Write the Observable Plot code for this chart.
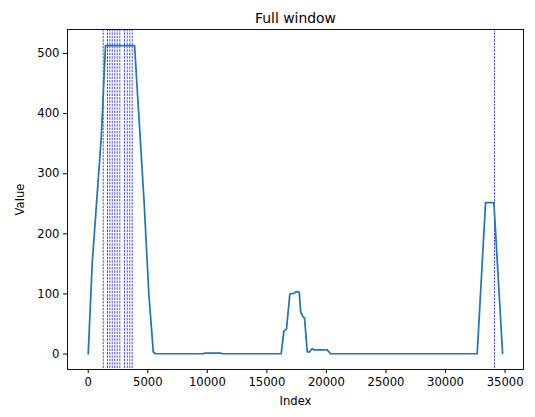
<!DOCTYPE html>
<html>
<head>
<meta charset="utf-8">
<script src="https://cdn.jsdelivr.net/npm/d3@7"></script>
<script src="https://cdn.jsdelivr.net/npm/@observablehq/plot@0.6"></script>
<style>
  html, body { margin: 0; padding: 0; background: white; }
</style>
</head>
<body>
<div id="chart"></div>
<script>
const title = "Full window";
const xLabel = "Index";
const yLabel = "Value";

const indexValues = [0, 336, 1100, 1450, 3890, 4330, 4700, 5090, 5460, 5600, 5790,
  9700, 9750, 11150, 11200, 16200, 16430, 16650, 16930, 17270, 17490, 17720,
  17830, 17990, 18160, 18390, 18550, 18810, 18940, 20070, 20340, 32660, 33360,
  34060, 34790];
const signalValues = [0, 151, 362, 513, 513, 371, 250, 100, 4, 1, 0.5,
  0.5, 1.5, 1.5, 0.5, 0.5, 38, 42, 100, 101, 104, 103,
  71, 63, 60, 4, 3, 9, 7, 7, 0.5, 0.5, 252,
  252, 1];

// marked positions (dashed vertical lines)
const markedIndices = [1259, 1620, 1814, 2015, 2233, 2435, 2653, 3048, 3275, 3493, 3694, 34110];

const xTicks = [0, 5000, 10000, 15000, 20000, 25000, 30000, 35000];
const yTicks = [0, 100, 200, 300, 400, 500];

const data = indexValues.map((x, i) => ({x, y: signalValues[i]}));

const chart = Plot.plot({
  width: 535,
  height: 417,
  marginLeft: 67,
  marginRight: 12,
  marginTop: 29,
  marginBottom: 48,
  style: {fontFamily: "DejaVu Sans", fontSize: "11.6px", background: "white", color: "black"},
  x: {domain: [-1740, 36546]},
  y: {domain: [-25.7, 540]},
  marks: [
    Plot.ruleX(markedIndices, {stroke: "blue", strokeWidth: 0.8, strokeDasharray: "2.4,1", strokeOpacity: 0.9}),
    Plot.line(data, {x: "x", y: "y", stroke: "#1f77b4", strokeWidth: 1.74}),
    Plot.frame({stroke: "black", strokeWidth: 0.93}),
    Plot.axisX({ticks: xTicks, tickFormat: d3.format("d"), tickSize: 4, tickPadding: 4,
      label: xLabel, labelAnchor: "center", labelArrow: "none", labelOffset: 35}),
    Plot.axisY({ticks: yTicks, tickFormat: d3.format("d"), tickSize: 4, tickPadding: 4,
      label: yLabel, labelAnchor: "center", labelArrow: "none", labelOffset: 52}),
    Plot.text([title], {frameAnchor: "top", dy: -16, fontSize: 13.9, fill: "black"})
  ]
});
document.getElementById("chart").appendChild(chart);
</script>
</body>
</html>
